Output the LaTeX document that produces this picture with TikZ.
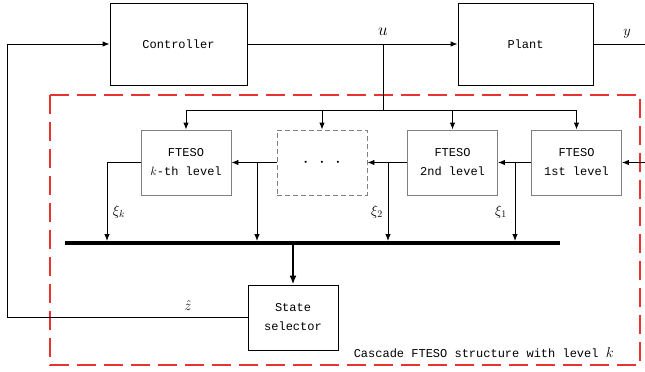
\documentclass[tikz,border=0pt]{standalone}
\usepackage{fontspec}
\setmonofont{Liberation Mono}
\usetikzlibrary{arrows.meta}
\definecolor{frameRed}{RGB}{232,52,48}
\definecolor{boxGray}{RGB}{128,128,128}
\begin{document}
\begin{tikzpicture}[x=1pt, y=-1pt, >={Latex[length=7pt,width=5.5pt]}, line width=0.9pt,
  txt/.style={font=\fontsize{12}{19}\selectfont\ttfamily, align=center},
  blk/.style={draw, txt, inner sep=0pt, minimum width=137, minimum height=82},
  eso/.style={draw=boxGray, txt, inner sep=0pt, minimum width=90, minimum height=65},
  sig/.style={font=\fontsize{14}{16}\selectfont}]
\useasboundingbox (0,0) rectangle (645,372);

\draw[frameRed, line width=2.2pt, dash pattern=on 19pt off 8pt] (50,95) rectangle (640,365);

\node[blk] (ctrl) at (178.5,44) {Controller};
\node[blk, minimum width=135] (plant) at (525.5,44) {Plant};

\node[eso] (ok) at (186,162.5) {FTESO\\$k$-th level};
\node[eso, dash pattern=on 5pt off 3pt] (odots) at (322,162.5) {\fontsize{20}{20}\selectfont$\cdot\;\cdot\;\cdot$};
\node[eso] (o2) at (452.5,162.5) {FTESO\\2nd level};
\node[eso] (o1) at (576.5,162.5) {FTESO\\1st level};
\node[draw, txt, inner sep=0pt, minimum width=90, minimum height=65] (sel) at (293,317.5) {State\\selector};

\coordinate (uB) at (383,44);
\coordinate (dist) at (383,110);
\coordinate (yOut) at (645,44);
\coordinate (fbL) at (7,44);
\coordinate (in) at (645,162.5);
\coordinate (t1) at (515,162.5);
\coordinate (t2) at (388,162.5);
\coordinate (t3) at (257,162.5);
\coordinate (tk) at (107,162.5);
\coordinate (busL) at (65,243);
\coordinate (busR) at (560,243);
\coordinate (busM) at (293,243);

\draw[->] (ctrl.east) -- (plant.west);
\draw (plant.east) -- (yOut);
\draw[->] (sel.west) -| (fbL) -- (ctrl.west);
\draw (uB) -- (dist);
\draw[->] (dist) -| (ok.north);
\draw[->] (dist) -| (odots.north);
\draw[->] (dist) -| (o2.north);
\draw[->] (dist) -| (o1.north);

\draw[->] (in) -- (o1.east);
\draw[->] (o1.west) -- (o2.east);
\draw[->] (o2.west) -- (odots.east);
\draw[->] (odots.west) -- (ok.east);

\draw[->, shorten >=2pt] (t1) -- (t1 |- busL);
\draw[->, shorten >=2pt] (t2) -- (t2 |- busL);
\draw[->, shorten >=2pt] (t3) -- (t3 |- busL);
\draw[->, shorten >=2pt] (ok.west) -- (tk) -- (tk |- busL);

\draw[line width=4pt] (busL) -- (busR);
\draw[line width=2.4pt, -{Latex[length=9pt,width=7pt]}] (busM) -- (sel.north);

\node[font=\fontsize{19}{20}\selectfont] at (383,32) {$u$};
\node[font=\fontsize{15}{16}\selectfont] at (627,34) {$y$};
\node[font=\fontsize{15}{16}\selectfont] at (188,305) {$\hat{z}$};
\node[sig] at (501,212) {$\xi_1$};
\node[sig] at (377,212) {$\xi_2$};
\node[sig] at (119,212) {$\xi_k$};
\node[txt, anchor=west] at (350,353) {Cascade FTESO structure with level \fontsize{15}{16}\selectfont$k$};
\end{tikzpicture}
\end{document}
